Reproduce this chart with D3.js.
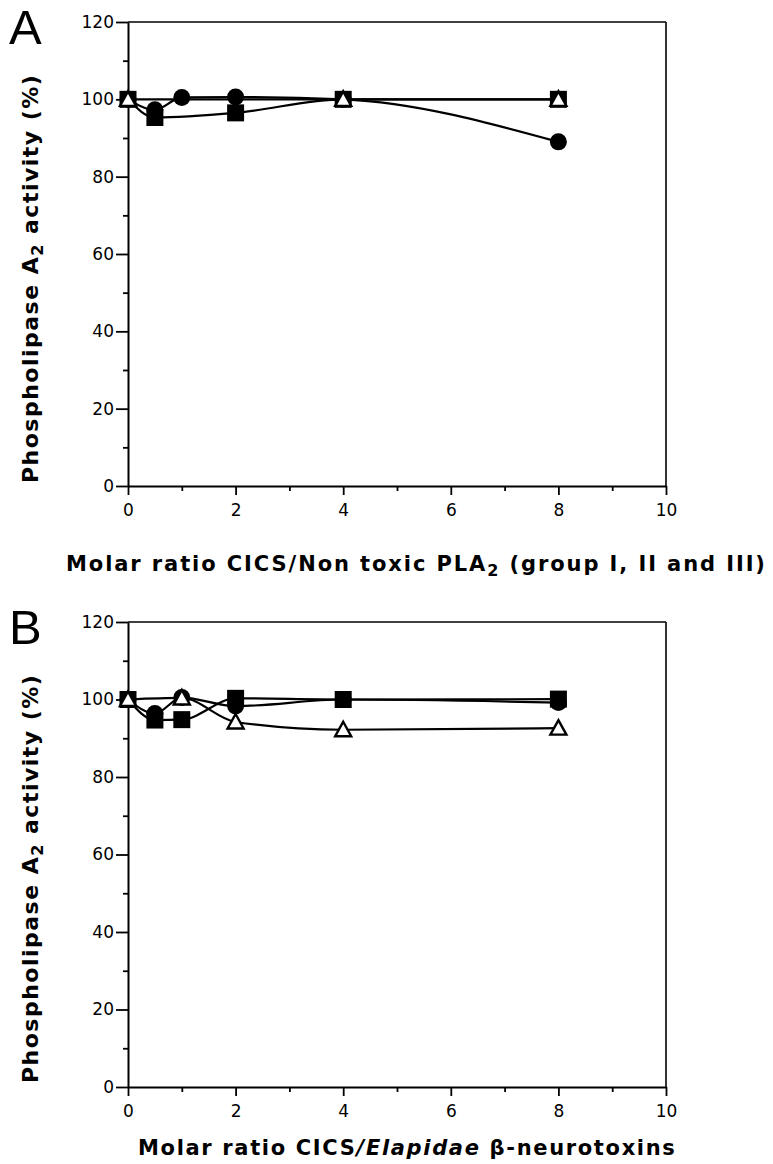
<!DOCTYPE html>
<html>
<head>
<meta charset="utf-8">
<script src="https://cdn.jsdelivr.net/npm/d3@7"></script>
<style>
  body { margin: 0; background: #fff; }
  svg { display: block; }
  .tick text { font-family: "DejaVu Sans", sans-serif; font-size: 17px; fill: #000; }
  .lbl { font-family: "DejaVu Sans", sans-serif; font-weight: bold; fill: #000; }
  .panel { font-family: "Liberation Sans", Arial, sans-serif; font-size: 49px; fill: #000; }
</style>
</head>
<body>
<div id="chart"></div>
<script>
// ticks
var xTicks = [0, 2, 4, 6, 8, 10];
var xMinor = [1, 3, 5, 7, 9];
var yTicks = [0, 20, 40, 60, 80, 100, 120];
var yMinor = [10, 30, 50, 70, 90, 110];

// Panel A - non toxic PLA2
var aCircleX = [0, 0.5, 1, 2, 4, 8];
var aCircleY = [100, 97.3, 100.5, 100.6, 100, 89];
var aSquareX = [0, 0.5, 2, 4, 8];
var aSquareY = [100, 95.3, 96.5, 100, 100];
var aTriangleX = [0, 4, 8];
var aTriangleY = [100, 100, 100];

// Panel B - Elapidae beta-neurotoxins
var bCircleX = [0, 0.5, 1, 2, 4, 8];
var bCircleY = [100, 96.4, 100.5, 98.3, 100, 99.2];
var bSquareX = [0, 0.5, 1, 2, 4, 8];
var bSquareY = [100, 94.7, 94.8, 100.3, 100, 100.1];
var bTriangleX = [0, 1, 2, 4, 8];
var bTriangleY = [100, 100.4, 94.2, 92.2, 92.6];

var svgWidth = 773, svgHeight = 1164;

var svg = d3.select("#chart").append("svg")
  .attr("width", svgWidth)
  .attr("height", svgHeight);

var xScale = d3.scaleLinear().domain([0, 10]).range([128, 666]);

function zip(xs, ys) {
  return xs.map((x, i) => ({x: x, y: ys[i]}));
}

// spread letters so a label fills a given width
function fitText(sel, width) {
  var n = sel.text().length;
  var natural = sel.node().getComputedTextLength();
  sel.attr("letter-spacing", ((width - natural) / (n - 1)).toFixed(2));
}

function drawPanel(top, bottom, letter, series) {
  var yScale = d3.scaleLinear().domain([0, 120]).range([bottom, top]);
  var g = svg.append("g");

  // frame top and right
  g.append("line").attr("x1", xScale(0)).attr("x2", xScale(10))
    .attr("y1", yScale(120)).attr("y2", yScale(120))
    .attr("stroke", "#000").attr("stroke-width", 1.6);
  g.append("line").attr("x1", xScale(10)).attr("x2", xScale(10))
    .attr("y1", yScale(120)).attr("y2", yScale(0))
    .attr("stroke", "#000").attr("stroke-width", 1.6);

  // y axis
  g.append("g")
    .attr("transform", `translate(${xScale(0)},0)`)
    .call(d3.axisLeft(yScale).tickValues(yTicks).tickSize(12).tickPadding(2).tickSizeOuter(0));
  g.append("g")
    .attr("transform", `translate(${xScale(0)},0)`)
    .call(d3.axisLeft(yScale).tickValues(yMinor).tickSize(5).tickFormat("").tickSizeOuter(0))
    .select(".domain").remove();

  // x axis
  g.append("g")
    .attr("transform", `translate(0,${yScale(0)})`)
    .call(d3.axisBottom(xScale).tickValues(xTicks).tickSize(9).tickPadding(9).tickSizeOuter(0));
  g.append("g")
    .attr("transform", `translate(0,${yScale(0)})`)
    .call(d3.axisBottom(xScale).tickValues(xMinor).tickSize(5).tickFormat("").tickSizeOuter(0))
    .select(".domain").remove();

  g.selectAll(".domain").attr("stroke", "#000").attr("stroke-width", 2);
  g.selectAll(".tick line").attr("stroke", "#000").attr("stroke-width", 1.8);

  // lines
  var line = d3.line()
    .x(d => xScale(d.x))
    .y(d => yScale(d.y))
    .curve(d3.curveMonotoneX);

  series.forEach(s => {
    g.append("path").datum(s.data)
      .attr("d", line)
      .attr("fill", "none")
      .attr("stroke", "#000")
      .attr("stroke-width", 2.2);
  });

  // markers
  series.forEach(s => {
    var m = g.append("g").selectAll("g").data(s.data).enter().append("g")
      .attr("transform", d => `translate(${xScale(d.x)},${yScale(d.y)})`);
    if (s.shape === "circle") {
      m.append("circle").attr("r", 8.5).attr("fill", "#000");
    } else if (s.shape === "square") {
      m.append("rect").attr("x", -8.5).attr("y", -8.5).attr("width", 17).attr("height", 17).attr("fill", "#000");
    } else {
      m.append("path").attr("d", "M0,-8L8,6.5L-8,6.5Z")
        .attr("fill", "#fff").attr("stroke", "#000").attr("stroke-width", 2.4)
        .attr("stroke-linejoin", "miter");
    }
  });

  // panel letter
  svg.append("text").attr("class", "panel")
    .attr("x", 9).attr("y", top + 22)
    .text(letter);

  return yScale;
}

drawPanel(22, 486, "A", [
  {shape: "circle", data: zip(aCircleX, aCircleY)},
  {shape: "square", data: zip(aSquareX, aSquareY)},
  {shape: "triangle", data: zip(aTriangleX, aTriangleY)}
]);

drawPanel(622, 1087, "B", [
  {shape: "circle", data: zip(bCircleX, bCircleY)},
  {shape: "square", data: zip(bSquareX, bSquareY)},
  {shape: "triangle", data: zip(bTriangleX, bTriangleY)}
]);

// y axis titles
function yTitle(y0, y1) {
  var t = svg.append("text").attr("class", "lbl")
    .attr("font-size", 22)
    .attr("transform", `translate(38,${y1}) rotate(-90)`);
  t.append("tspan").text("Phospholipase A");
  t.append("tspan").attr("font-size", 16).attr("dy", 5).text("2");
  t.append("tspan").attr("dy", -5).text(" activity (%)");
  fitText(t, y1 - y0);
}
yTitle(75, 483);
yTitle(675, 1083);

// x axis titles
var xa = svg.append("text").attr("class", "lbl")
  .attr("font-size", 21)
  .attr("x", 66).attr("y", 571);
xa.append("tspan").text("Molar ratio CICS/Non toxic PLA");
xa.append("tspan").attr("font-size", 16).attr("dy", 5).text("2");
xa.append("tspan").attr("dy", -5).text(" (group I, II and III)");
fitText(xa, 765 - 66);

var xb = svg.append("text").attr("class", "lbl")
  .attr("font-size", 21)
  .attr("x", 138).attr("y", 1155);
xb.append("tspan").text("Molar ratio CICS");
xb.append("tspan").attr("font-style", "italic").text("/Elapidae");
xb.append("tspan").text(" \u03b2-neurotoxins");
fitText(xb, 675 - 138);
</script>
</body>
</html>
